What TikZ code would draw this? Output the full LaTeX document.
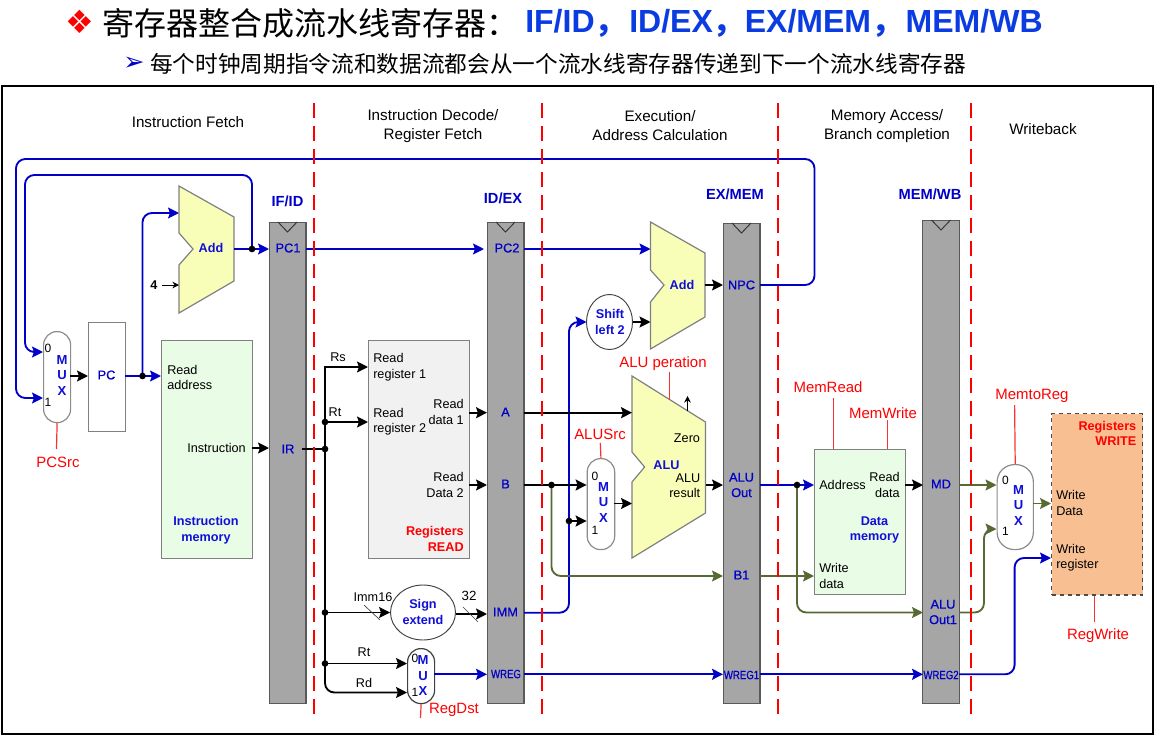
\documentclass[tikz,border=0pt]{standalone}
\usepackage{fontspec}
\usepackage{graphicx}
\setmainfont{Liberation Sans}
\newfontfamily\cjk{Noto Sans CJK SC}
\newfontfamily\dejav{DejaVu Sans}
\newfontfamily\fakeb[FakeBold=0.6]{Liberation Sans}
\usetikzlibrary{arrows.meta,calc,shapes.geometric}
\definecolor{wblue}{RGB}{0,0,200}
\definecolor{lblue}{RGB}{15,15,215}
\definecolor{tblue}{RGB}{10,60,225}
\definecolor{wolive}{RGB}{88,106,52}
\definecolor{ctl}{RGB}{250,50,50}
\definecolor{bargray}{RGB}{166,166,166}
\definecolor{addfill}{RGB}{248,253,184}
\definecolor{memfill}{RGB}{233,252,230}
\definecolor{regfill}{RGB}{241,241,241}
\definecolor{wrfill}{RGB}{248,192,146}
\tikzset{
  x=0.75pt,y=-0.75pt,
  tip/.style={-{Stealth[length=8.2pt,width=8.2pt,inset=1.4pt]}},
  wk/.style={line width=1.4pt,black},
  wb/.style={line width=1.4pt,wblue},
  wo/.style={line width=1.4pt,wolive},
  rc/.style={rounded corners=7pt},
  dotk/.style={circle,fill=black,inner sep=0pt,minimum size=5pt},
  txt/.style={inner sep=0pt,font=\fontsize{9.5}{11.6}\selectfont,align=center},
  stage/.style={inner sep=0pt,font=\fontsize{11.4}{14.2}\selectfont,align=center},
  redl/.style={inner sep=0pt,font=\fontsize{11.2}{13.5}\selectfont,text=red},
  redb/.style={inner sep=0pt,font=\fontsize{9.5}{11.6}\selectfont\bfseries,text=red,align=right},
  blb/.style={inner sep=0pt,font=\fontsize{9.5}{11.6}\selectfont\bfseries,text=lblue,align=center},
  blhead/.style={inner sep=0pt,font=\fontsize{11}{13}\selectfont\bfseries,text=wblue,align=center},
  regn/.style={inner sep=0pt,font=\fakeb\fontsize{9.6}{11.6}\selectfont,text=wblue,align=center},
  wregl/.style={inner sep=0pt,font=\fakeb\fontsize{9}{11}\selectfont,text=wblue},
  bar/.style={draw=black!65,line width=0.8pt,fill=bargray,minimum width=27.7pt,inner sep=0pt},
  muxs/.style={draw=black!45,line width=0.9pt,fill=white,inner sep=0pt,rounded corners=10pt},
  ctlw/.style={ctl,line width=0.9pt},
  stagedash/.style={red,line width=1.5pt,dash pattern=on 11.2pt off 6pt},
  clk/.style={black!80,line width=0.7pt},
  addp/.style={draw=black!50,line width=0.9pt,fill=addfill,line join=miter},
  memb/.style={draw=black!50,line width=0.9pt,fill=memfill,inner sep=0pt},
  oval/.style={ellipse,draw=black!75,line width=0.7pt,fill=white,inner sep=0pt},
  muxl/.style={inner sep=0pt,font=\fontsize{9.8}{11.6}\selectfont\bfseries,text=lblue,align=center},
  num/.style={inner sep=0pt,font=\fontsize{9}{11}\selectfont}
}
\begin{document}
\begin{tikzpicture}
\useasboundingbox (0,0) rectangle (1158,739);
% title
\node[inner sep=0pt,anchor=center,text=red,font=\dejav\fontsize{24}{28}\selectfont] (bullet) at (80,22) {❖};
\node[inner sep=0pt,anchor=west,font=\cjk\fontsize{24}{28}\selectfont] (title) at (102,23) {寄存器整合成流水线寄存器：};
\node[inner sep=0pt,anchor=west,font=\fontsize{24}{28}\selectfont\bfseries,text=tblue] (t1) at (525,23) {IF/ID{\cjk，}\hspace{2pt}ID/EX{\cjk，}EX/MEM{\cjk，}\hspace{2pt}MEM/WB};
\node[inner sep=0pt,anchor=center,text=wblue,font=\dejav\fontsize{19}{22}\selectfont] (subb) at (134,64) {➢};
\node[inner sep=0pt,anchor=west,font=\cjk\fontsize{17}{20}\selectfont] (sub) at (150,64) {每个时钟周期指令流和数据流都会从一个流水线寄存器传递到下一个流水线寄存器};
% frame
\node[draw=black,line width=1.6pt,minimum width=863.5pt,minimum height=486pt,inner sep=0pt,anchor=north west] (frame) at (1,85) {};
% stage captions
\node[stage] (s1) at (188,122) {Instruction Fetch};
\node[stage] (s2) at (433,126.5) {Instruction Decode/\\Register Fetch};
\node[stage] (s3) at (660,125.5) {Execution/\\Address Calculation};
\node[stage] (s4) at (887,126.5) {Memory Access/\\Branch completion};
\node[stage] (s5) at (1043,129) {Writeback};
% pipeline bars
\node[bar,minimum height=360.75pt,anchor=north] (ifid) at (287.5,222) {};
\node[bar,minimum height=360.75pt,anchor=north] (idex) at (505.5,222) {};
\node[bar,minimum height=360pt,anchor=north] (exmem) at (741.5,223) {};
\node[bar,minimum height=362.25pt,anchor=north] (memwb) at (941,220) {};
\foreach \n/\cx/\ty in {ifid/287.5/222,idex/505.5/222,exmem/741.5/223,memwb/941/220}
  \draw[clk] (\cx-9.5,\ty) -- (\cx,\ty+10) -- (\cx+9.5,\ty);
\node[blhead] (lifid) at (287.5,201) {IF/ID};
\node[blhead] (lidex) at (503,198) {ID/EX};
\node[blhead] (lexmem) at (735,194) {EX/MEM};
\node[blhead] (lmemwb) at (930,194) {MEM/WB};
% units
\node[memb,minimum width=68.25pt,minimum height=163.5pt,anchor=north west] (imem) at (161,340) {};
\node[draw=black!50,line width=0.9pt,fill=white,inner sep=0pt,minimum width=27.75pt,minimum height=81.75pt,anchor=north west] (pc) at (88,322) {};
\node[draw=black!50,line width=0.9pt,fill=regfill,inner sep=0pt,minimum width=75.75pt,minimum height=163.5pt,anchor=north west] (regs) at (368,340) {};
\node[memb,minimum width=68.25pt,minimum height=108.75pt,anchor=north west] (dmem) at (814,449) {};
\node[draw=black!70,line width=0.9pt,dashed,fill=wrfill,inner sep=0pt,minimum width=68.25pt,minimum height=136pt,anchor=north west] (wreg) at (1051,413) {};
\draw[addp] (179,186) -- (234,217) -- (234,281) -- (179,313) -- (179,265) -- (193,249) -- (179,233) -- cycle;
\draw[addp] (650.5,222) -- (705,253) -- (705,317) -- (650.5,349) -- (650.5,302) -- (664,285) -- (650.5,270) -- cycle;
\draw[addp] (632,376) -- (705.5,422) -- (705.5,513) -- (632,558) -- (632,482) -- (644.6,467) -- (632,452) -- cycle;
\node[muxs,minimum width=20.25pt,minimum height=68.25pt,anchor=north west] (mux1) at (43,331) {};
\node[muxs,minimum width=20.6pt,minimum height=68.25pt,anchor=north west] (mux2) at (586.6,458) {};
\node[muxs,minimum width=27.2pt,minimum height=63.75pt,anchor=north west,rounded corners=13pt] (mux3) at (996.5,464) {};
\node[muxs,minimum width=20.25pt,minimum height=41.25pt,anchor=north west,draw=black!75] (mux4) at (407,648) {};
\node[oval,minimum width=34.5pt,minimum height=41.25pt] (shift) at (609.5,322) {};
\node[oval,minimum width=48.75pt,minimum height=41.25pt] (sign) at (423,612.5) {};
% ports
\coordinate (dotadd) at (252,249);
\coordinate (ifpc) at (269,249);
\coordinate (ifpcout) at (306,249);
\coordinate (idpc) at (484,249);
\coordinate (idpcout) at (524,249);
\coordinate (addbin) at (650.5,249);
\coordinate (add1out) at (234,249);
\coordinate (add2out) at (705,285);
\coordinate (npc) at (723,285);
\coordinate (npcout) at (760,285);
\coordinate (add2in) at (650.5,322);
\coordinate (pcin) at (88,376);
\coordinate (pcout) at (125,376);
\coordinate (muxout) at (70,376);
\coordinate (dotpc) at (142.5,376);
\coordinate (raddr) at (161,376);
\coordinate (add1a) at (179,213);
\coordinate (add1b) at (179,285);
\coordinate (m1a) at (43,352);
\coordinate (m1b) at (43,398);
\coordinate (instout) at (252,448);
\coordinate (ifir) at (269,448);
\coordinate (irout) at (302,449);
\coordinate (dotir) at (325,449);
\coordinate (busrs) at (325,367);
\coordinate (rr1) at (368,367);
\coordinate (dotrt) at (325,422);
\coordinate (rr2) at (368,422);
\coordinate (dotim) at (325,612.5);
\coordinate (dotm0) at (325,663.5);
\coordinate (m4a) at (407,663.5);
\coordinate (m4b) at (407,692.5);
\coordinate (signout) at (455.5,614);
\coordinate (idimm) at (487,614);
\coordinate (rd1) at (469,412.7);
\coordinate (ida) at (487,412.7);
\coordinate (rd2) at (469,485);
\coordinate (idb) at (487,485);
\coordinate (aout) at (524,412.7);
\coordinate (alua) at (632,412.7);
\coordinate (bout) at (524,485);
\coordinate (m2a) at (586.6,485);
\coordinate (dotb) at (551.5,485);
\coordinate (b1in) at (723,576);
\coordinate (dotimm) at (569,521);
\coordinate (m2b) at (586.6,521);
\coordinate (immout) at (524,612.7);
\coordinate (shiftin) at (586.5,322);
\coordinate (m4out) at (434,674.3);
\coordinate (idwr) at (487,674.3);
\coordinate (idwrout) at (524,674.3);
\coordinate (exwr) at (723,674.3);
\coordinate (exwrout) at (760,674.3);
\coordinate (mwwr) at (923,674.3);
\coordinate (mwwrout) at (959,674.3);
\coordinate (wrreg) at (1051,558);
\coordinate (m2out) at (614,503.5);
\coordinate (alub) at (632,503.5);
\coordinate (alures) at (705.5,485);
\coordinate (exalu) at (723,485);
\coordinate (exaluout) at (760,485);
\coordinate (dmaddr) at (814,485);
\coordinate (dotalu) at (797,485);
\coordinate (mwalu) at (923,612.5);
\coordinate (exb1) at (760,576);
\coordinate (dmwd) at (814,576);
\coordinate (rdout) at (905,485);
\coordinate (mwmd) at (923,485);
\coordinate (mdout) at (959,485);
\coordinate (m3a) at (996.5,485);
\coordinate (m3b) at (996.5,529);
\coordinate (mwaluout) at (959,612.5);
\coordinate (m3out) at (1033,503.5);
\coordinate (wrdata) at (1051,503.5);
\coordinate (four) at (162,285);
\coordinate (zeroa) at (687.5,411);
\coordinate (zerob) at (687.5,396);
% blue wires
\draw[wb,tip,rc] (npcout) -- (814.5,285) -- (814.5,159) -- (16,159) -- (16,398) -- (m1b);
\draw[wb,tip,rc] (dotadd) -- (252,175) -- (25,175) -- (25,352) -- (m1a);
\draw[wb,tip] (add1out) -- (ifpc);
\draw[wb,tip] (ifpcout) -- (idpc);
\draw[wb,tip] (idpcout) -- (addbin);
\draw[wb,tip] (pcout) -- (raddr);
\draw[wb,tip,rc] (dotpc) -- (142.5,213) -- (add1a);
\draw[wb,tip,rc] (immout) -- (569,612.7) -- (569,322) -- (shiftin);
\draw[wb,tip] (m4out) -- (idwr);
\draw[wb,tip] (idwrout) -- (exwr);
\draw[wb,tip] (exwrout) -- (mwwr);
\draw[wb,tip,rc] (mwwrout) -- (1014.6,674.3) -- (1014.6,558) -- (wrreg);
\draw[wb,tip] (exaluout) -- (dmaddr);
% olive wires
\draw[wo,tip,rc] (dotb) -- (551.5,576) -- (b1in);
\draw[wo,tip,rc] (dotalu) -- (797,612.5) -- (mwalu);
\draw[wo,tip] (exb1) -- (dmwd);
\draw[wo,tip] (mdout) -- (m3a);
\draw[wo,tip,rc] (mwaluout) -- (984,612.5) -- (984,529) -- (m3b);
\draw[wo,tip] (m3out) -- (wrdata);
% black wires
\draw[wk,tip] (muxout) -- (pcin);
\draw[black,line width=0.7pt,-{Stealth[length=5pt,width=5pt]}] (four) -- (add1b);
\draw[wk,tip] (add2out) -- (npc);
\draw[wk,tip] (shift.east) -- (add2in);
\draw[wk,tip] (instout) -- (ifir);
\draw[wk] (irout) -- (dotir);
\draw[wk,tip] (dotir) -- (busrs) -- (rr1);
\draw[wk,tip] (dotrt) -- (rr2);
\draw[wk,tip] (dotim) -- (sign.west);
\draw[wk,tip] (dotm0) -- (m4a);
\draw[wk,tip,rc] (dotir) -- (325,692.5) -- (m4b);
\draw[wk,tip] (signout) -- (idimm);
\draw[wk,tip] (rd1) -- (ida);
\draw[wk,tip] (rd2) -- (idb);
\draw[line width=1.7pt,tip] (aout) -- (alua);
\draw[wk,tip] (bout) -- (m2a);
\draw[wk,tip] (dotimm) -- (m2b);
\draw[wk,tip] (m2out) -- (alub);
\draw[wk,tip] (alures) -- (exalu);
\draw[wk,tip] (rdout) -- (mwmd);
\draw[black,line width=0.7pt,-{Stealth[length=5pt,width=5pt]}] (zeroa) -- (zerob);
\draw[black!75,line width=0.5pt] (364,605) -- (380,620);
\draw[black!75,line width=0.5pt] (463,607) -- (478,622);
% junction dots
\foreach \d in {dotadd,dotpc,dotir,dotrt,dotim,dotm0,dotb,dotimm,dotalu}
  \node[dotk] (j\d) at (\d) {};
% stage separators
\foreach \x in {314,542,777.5,970.5}
  \draw[stagedash] (\x,103) -- (\x,718);
% control lines
\coordinate (c1) at (56.5,449);
\coordinate (c2) at (420.5,718);
\coordinate (c3) at (600.3,443);
\coordinate (c4) at (669.5,372);
\coordinate (c4b) at (669.5,400);
\coordinate (c5) at (833.7,398);
\coordinate (c5b) at (833.7,449);
\coordinate (c6) at (887.5,420);
\coordinate (c6b) at (887.5,449);
\coordinate (c7) at (1014.6,405);
\coordinate (c8) at (1094.5,622);
\draw[ctlw] (mux1.south) -- (c1);
\draw[ctlw] (mux4.south) -- (c2);
\draw[ctlw] (c3) -- (mux2.north);
\draw[ctlw] (c4) -- (c4b);
\draw[ctlw] (c5) -- (c5b);
\draw[ctlw] (c6) -- (c6b);
\draw[ctlw] (c7) -- (mux3.north);
\draw[ctlw] (c8 |- wreg.south) -- (c8);
% red labels
\node[redl] (lpcsrc) at (58,462) {PCSrc};
\node[redl] (lregdst) at (454,710) {RegDst};
\node[redl] (lalusrc) at (600,434) {ALUSrc};
\node[redl] (laluop) at (663,364) {ALU peration};
\node[redl] (lmemrd) at (828,387) {MemRead};
\node[redl] (lmemwr) at (883,413) {MemWrite};
\node[redl] (lmtr) at (1032,396) {MemtoReg};
\node[redl] (lregwr) at (1098,636) {RegWrite};
\node[redb,anchor=east] (lregsr) at (464,539) {Registers\\READ};
\node[redb,anchor=east] (lregsw) at (1136.5,433.5) {Registers\\WRITE};
% unit text
\node[txt,align=left,anchor=west] (traddr) at (167,377.5) {Read\\address};
\node[txt,anchor=east] (tinst) at (246,448) {Instruction};
\node[blb] (timem) at (206,530) {Instruction\\memory};
\node[regn] (tpc) at (106.5,375) {PC};
\node[txt] (trs) at (338,357) {Rs};
\node[txt] (trt) at (335,412) {Rt};
\node[txt] (trt2) at (364,652) {Rt};
\node[txt] (trd) at (364,683) {Rd};
\node[txt] (timm) at (373,597) {Imm16};
\node[inner sep=0pt,font=\fontsize{10}{12}\selectfont] (t32) at (469,596) {32};
\node[txt,align=left,anchor=west] (trr1) at (373,367) {Read\\register 1};
\node[txt,align=left,anchor=west] (trr2) at (373,421.5) {Read\\register 2};
\node[txt,align=right,anchor=east] (trd1) at (464,412) {Read\\data 1};
\node[txt,align=right,anchor=east] (trd2) at (464,485) {Read\\Data 2};
\node[txt,anchor=west] (taddr) at (819,484.5) {Address};
\node[txt,align=right,anchor=east] (tmrd) at (900,485) {Read\\data};
\node[blb] (tdmem) at (874.5,530) {Data\\memory};
\node[txt,align=left,anchor=west] (tmwd) at (819,576) {Write\\data};
\node[txt,align=left,anchor=west] (twd) at (1056,503) {Write\\Data};
\node[txt,align=left,anchor=west] (twr) at (1056,557.5) {Write\\register};
\node[txt] (tzero) at (687,438) {Zero};
\node[blb] (talu) at (666.5,465) {ALU};
\node[txt,align=right,anchor=east] (talur) at (700.5,485.5) {ALU\\result};
\node[blb] (tadd1) at (211,248) {Add};
\node[blb] (tadd2) at (682,285) {Add};
\node[inner sep=0pt,font=\fontsize{9.5}{11}\selectfont\bfseries] (t4) at (154,285) {4};
\node[blb] (tshift) at (610,322) {Shift\\left 2};
\node[blb] (tsign) at (423,612) {Sign\\extend};
% mux labels
\node[muxl] (m1t) at (62,375.5) {M\\U\\X};
\node[num] (m1z) at (48,348.5) {0};
\node[num] (m1o) at (48,402.5) {1};
\node[muxl] (m2t) at (603.6,502.5) {M\\U\\X};
\node[num] (m2z) at (595,476) {0};
\node[num] (m2o) at (595,530) {1};
\node[muxl] (m3t) at (1018.5,505.5) {M\\U\\X};
\node[num] (m3z) at (1005.5,480) {0};
\node[num] (m3o) at (1005.5,531) {1};
\node[muxl] (m4t) at (423,675.5) {M\\U\\X};
\node[num] (m4z) at (415,658) {0};
\node[num] (m4o) at (415,692) {1};
% register field labels
\node[regn] (fpc1) at (288,248) {PC1};
\node[regn] (fpc2) at (507,248) {PC2};
\node[regn] (fnpc) at (741.5,285) {NPC};
\node[regn] (fir) at (288,449) {IR};
\node[regn] (fa) at (505.5,412) {A};
\node[regn] (fb) at (505.5,484) {B};
\node[regn] (fimm) at (505.5,612) {IMM};
\node[wregl] (fwr) at (506,674) {\scalebox{0.8}[1]{WREG}};
\node[wregl] (fwr1) at (741.5,675) {\scalebox{0.8}[1]{WREG1}};
\node[wregl] (fwr2) at (941,675) {\scalebox{0.8}[1]{WREG2}};
\node[regn] (falu) at (741.5,485) {ALU\\Out};
\node[regn] (fb1) at (741.5,575) {B1};
\node[regn] (fmd) at (941,484) {MD};
\node[regn] (falu1) at (943,612) {ALU\\Out1};
\end{tikzpicture}
\end{document}
